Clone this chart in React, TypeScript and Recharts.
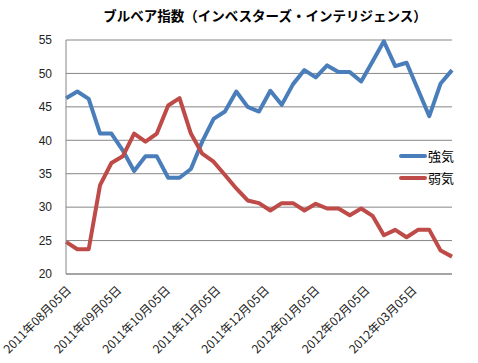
import { LineChart, Line, XAxis, YAxis, CartesianGrid } from "recharts"

// weekly readings, Investors Intelligence
const dates = [
  "2011-08-05", "2011-08-12", "2011-08-19", "2011-08-26",
  "2011-09-02", "2011-09-09", "2011-09-16", "2011-09-23", "2011-09-30",
  "2011-10-07", "2011-10-14", "2011-10-21", "2011-10-28",
  "2011-11-04", "2011-11-11", "2011-11-18", "2011-11-25",
  "2011-12-02", "2011-12-09", "2011-12-16", "2011-12-23", "2011-12-30",
  "2012-01-06", "2012-01-13", "2012-01-20", "2012-01-27",
  "2012-02-03", "2012-02-10", "2012-02-17", "2012-02-24",
  "2012-03-02", "2012-03-09", "2012-03-16", "2012-03-23", "2012-03-30",
]

const bull = [
  46.3, 47.3, 46.2, 41.0, 41.0, 38.5, 35.4, 37.6, 37.6, 34.4, 34.4, 35.7,
  39.8, 43.2, 44.3, 47.3, 45.0, 44.3, 47.4, 45.3, 48.4, 50.5, 49.4, 51.2,
  50.2, 50.2, 48.8, 51.8, 54.8, 51.1, 51.6, 47.6, 43.6, 48.5, 50.5,
]

const bear = [
  24.8, 23.7, 23.7, 33.3, 36.6, 37.6, 41.0, 39.8, 41.0, 45.2, 46.3, 41.0,
  38.0, 36.8, 34.8, 32.8, 31.0, 30.6, 29.5, 30.6, 30.6, 29.5, 30.5, 29.8,
  29.8, 28.8, 29.8, 28.7, 25.8, 26.6, 25.5, 26.6, 26.6, 23.5, 22.6,
]

const tickDates = [
  "2011-08-05", "2011-09-05", "2011-10-05", "2011-11-05",
  "2011-12-05", "2012-01-05", "2012-02-05", "2012-03-05",
]

const yTicks = [20, 25, 30, 35, 40, 45, 50, 55]

const BLUE = "#4A7EBB"
const RED = "#BE4B48"
const GRID = "#868686"
const JP = "'Noto Sans CJK JP', 'Noto Sans', sans-serif"

const toDay = (s: string) => {
  const [y, m, d] = s.split("-").map(Number)
  return Date.UTC(y, m - 1, d) / 86400000
}

const fromDay = (n: number) => {
  const dt = new Date(n * 86400000)
  const mm = String(dt.getUTCMonth() + 1).padStart(2, "0")
  const dd = String(dt.getUTCDate()).padStart(2, "0")
  return `${dt.getUTCFullYear()}年${mm}月${dd}日`
}

const data = dates.map((d, i) => ({ day: toDay(d), bull: bull[i], bear: bear[i] }))
const tickDays = tickDates.map(toDay)

function DateTick({ x, y, payload }: any) {
  const px = x + 6
  const py = y + 9
  return (
    <text
      x={px}
      y={py}
      transform={`rotate(-45 ${px} ${py})`}
      textAnchor="end"
      fontSize={12}
      fontFamily={JP}
      fill="#222"
    >
      {fromDay(payload.value)}
    </text>
  )
}

export default function App() {
  return (
    <div style={{ position: "relative", width: 478, height: 363, background: "#fff" }}>
      <style>{`body{margin:0}`}</style>
      <div
        style={{
          position: "absolute",
          left: 100,
          top: 5,
          width: 330,
          textAlign: "center",
          fontFamily: JP,
          fontWeight: 700,
          fontSize: 13.5,
          color: "#000",
          whiteSpace: "nowrap",
        }}
      >
        ブルベア指数（インベスターズ・インテリジェンス）
      </div>
      <LineChart width={478} height={363} data={data} margin={{ top: 40, right: 26, bottom: 0, left: 0 }}>
        <CartesianGrid vertical={false} stroke={GRID} />
        <XAxis
          dataKey="day"
          type="number"
          domain={["dataMin", "dataMax"]}
          ticks={tickDays}
          interval={0}
          height={89}
          tickLine={false}
          axisLine={{ stroke: GRID }}
          tick={<DateTick />}
        />
        <YAxis
          domain={[20, 55]}
          ticks={yTicks}
          width={66}
          tickLine={false}
          axisLine={{ stroke: GRID }}
          tick={{ fontSize: 12, fill: "#222", fontFamily: "'Liberation Sans', sans-serif" }}
          tickMargin={8}
        />
        <Line
          type="linear"
          dataKey="bull"
          name="強気"
          stroke={BLUE}
          strokeWidth={4}
          dot={false}
          strokeLinejoin="round"
          isAnimationActive={false}
        />
        <Line
          type="linear"
          dataKey="bear"
          name="弱気"
          stroke={RED}
          strokeWidth={4}
          dot={false}
          strokeLinejoin="round"
          isAnimationActive={false}
        />
      </LineChart>
      <div style={{ position: "absolute", left: 399, top: 145, fontFamily: JP, fontSize: 13, color: "#000" }}>
        {[
          { label: "強気", color: BLUE },
          { label: "弱気", color: RED },
        ].map((item) => (
          <div key={item.label} style={{ display: "flex", alignItems: "center", height: 22 }}>
            <div style={{ width: 28, height: 4, borderRadius: 2, background: item.color }} />
            <span style={{ marginLeft: 1, lineHeight: "22px" }}>{item.label}</span>
          </div>
        ))}
      </div>
    </div>
  )
}
